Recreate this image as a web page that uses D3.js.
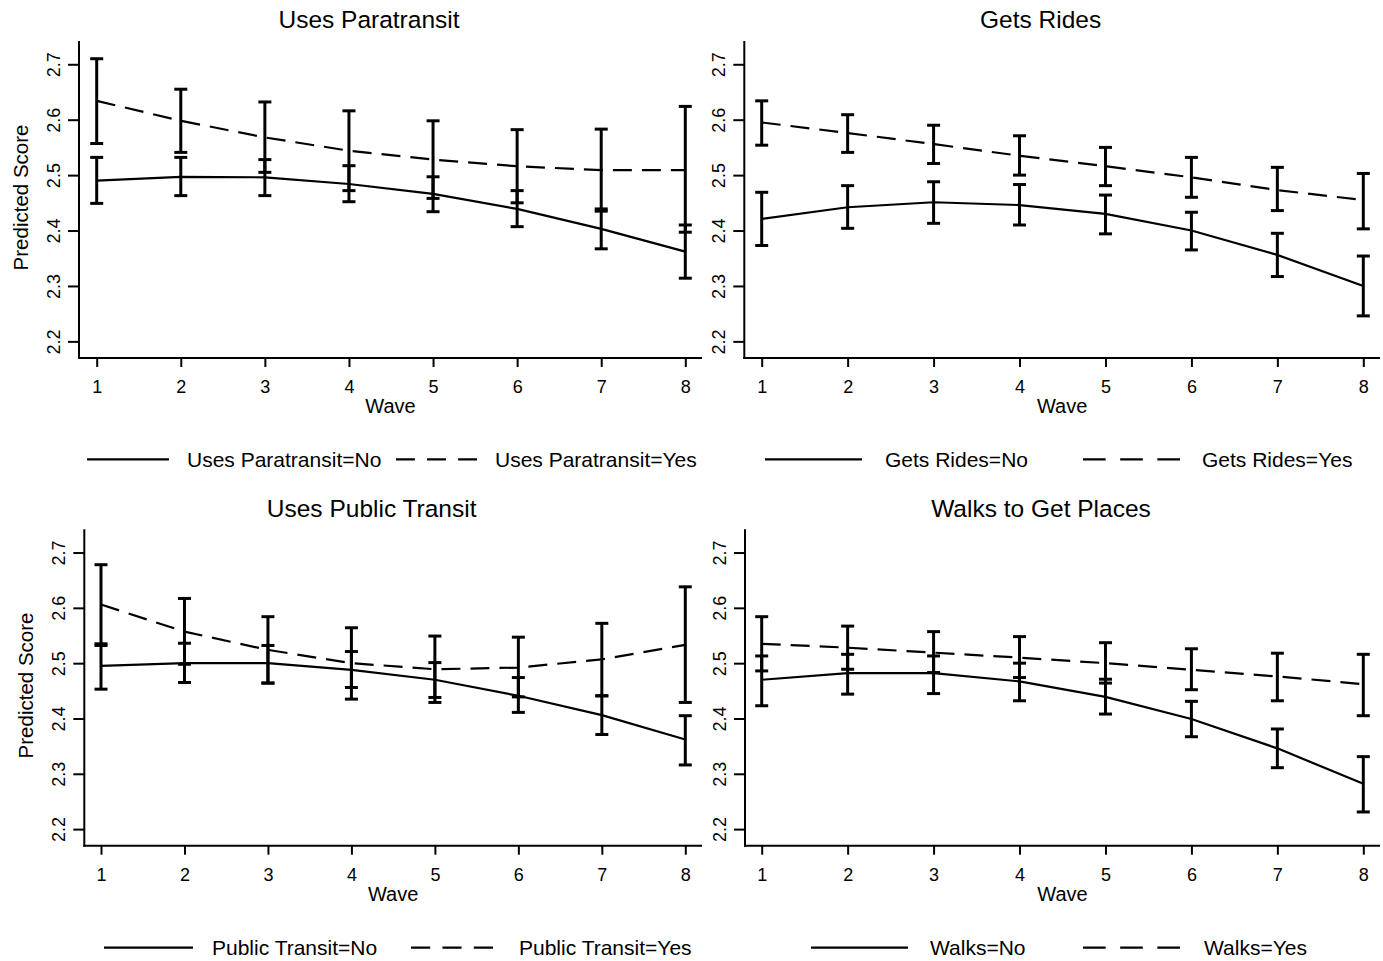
<!DOCTYPE html>
<html>
<head>
<meta charset="utf-8">
<script src="https://cdn.jsdelivr.net/npm/d3@7"></script>
<style>
  html, body { margin: 0; padding: 0; background: #fff; }
  svg { display: block; font-family: "Liberation Sans", Arial, sans-serif; }
</style>
</head>
<body>
<svg id="chart" width="1383" height="961"></svg>
<script>
// ---- data ----
const waves = [1, 2, 3, 4, 5, 6, 7, 8];
const yTicks = [2.2, 2.3, 2.4, 2.5, 2.6, 2.7];
const titles = ["Uses Paratransit", "Gets Rides", "Uses Public Transit", "Walks to Get Places"];
const legendNo = ["Uses Paratransit=No", "Gets Rides=No", "Public Transit=No", "Walks=No"];
const legendYes = ["Uses Paratransit=Yes", "Gets Rides=Yes", "Public Transit=Yes", "Walks=Yes"];

const paraNo    = [2.490, 2.497, 2.496, 2.484, 2.466, 2.439, 2.403, 2.362];
const paraNoLo  = [2.449, 2.463, 2.463, 2.452, 2.434, 2.407, 2.367, 2.314];
const paraNoHi  = [2.532, 2.532, 2.528, 2.517, 2.497, 2.472, 2.439, 2.410];
const paraYes   = [2.634, 2.598, 2.568, 2.544, 2.528, 2.516, 2.509, 2.509];
const paraYesLo = [2.557, 2.541, 2.505, 2.472, 2.458, 2.450, 2.435, 2.397];
const paraYesHi = [2.710, 2.655, 2.632, 2.616, 2.598, 2.582, 2.583, 2.624];

const ridesNo    = [2.421, 2.442, 2.451, 2.446, 2.430, 2.400, 2.356, 2.300];
const ridesNoLo  = [2.373, 2.404, 2.413, 2.410, 2.394, 2.365, 2.317, 2.246];
const ridesNoHi  = [2.469, 2.481, 2.488, 2.483, 2.464, 2.433, 2.395, 2.354];
const ridesYes   = [2.595, 2.576, 2.556, 2.535, 2.516, 2.496, 2.473, 2.455];
const ridesYesLo = [2.554, 2.541, 2.521, 2.500, 2.481, 2.460, 2.436, 2.403];
const ridesYesHi = [2.634, 2.609, 2.590, 2.571, 2.550, 2.532, 2.514, 2.503];

const pubNo    = [2.495, 2.500, 2.500, 2.488, 2.470, 2.441, 2.406, 2.362];
const pubNoLo  = [2.453, 2.465, 2.464, 2.456, 2.438, 2.411, 2.371, 2.316];
const pubNoHi  = [2.535, 2.536, 2.532, 2.521, 2.501, 2.474, 2.441, 2.405];
const pubYes   = [2.606, 2.557, 2.524, 2.500, 2.489, 2.492, 2.507, 2.533];
const pubYesLo = [2.532, 2.498, 2.464, 2.435, 2.429, 2.439, 2.441, 2.429];
const pubYesHi = [2.678, 2.617, 2.584, 2.564, 2.549, 2.547, 2.572, 2.638];

const walkNo    = [2.470, 2.482, 2.482, 2.467, 2.439, 2.399, 2.346, 2.282];
const walkNoLo  = [2.423, 2.444, 2.445, 2.432, 2.408, 2.367, 2.311, 2.231];
const walkNoHi  = [2.513, 2.516, 2.513, 2.500, 2.471, 2.431, 2.381, 2.331];
const walkYes   = [2.535, 2.528, 2.519, 2.510, 2.500, 2.488, 2.476, 2.462];
const walkYesLo = [2.486, 2.489, 2.483, 2.474, 2.464, 2.452, 2.432, 2.405];
const walkYesHi = [2.584, 2.567, 2.557, 2.548, 2.537, 2.526, 2.518, 2.516];

const seriesSets = [
  { no: paraNo, noLo: paraNoLo, noHi: paraNoHi, yes: paraYes, yesLo: paraYesLo, yesHi: paraYesHi },
  { no: ridesNo, noLo: ridesNoLo, noHi: ridesNoHi, yes: ridesYes, yesLo: ridesYesLo, yesHi: ridesYesHi },
  { no: pubNo, noLo: pubNoLo, noHi: pubNoHi, yes: pubYes, yesLo: pubYesLo, yesHi: pubYesHi },
  { no: walkNo, noLo: walkNoLo, noHi: walkNoHi, yes: walkYes, yesLo: walkYesLo, yesHi: walkYesHi }
];

// ---- layout (pixels) ----
const layout = [
  { axX: 79,    x1: 96.7,  x8: 685.3,  xEnd: 702,  yTop: 41,    yBot: 358,   ytitle: true,
    leg: { y: 459.3, s0: 87,  s1: 169,  t1: 187, d0: 396,  d1: 477,  t2: 495 } },
  { axX: 744.3, x1: 761.7, x8: 1363.3, xEnd: 1380, yTop: 41,    yBot: 358,   ytitle: false,
    leg: { y: 459.3, s0: 765, s1: 862,  t1: 885, d0: 1083, d1: 1180, t2: 1202 } },
  { axX: 84.3,  x1: 101,   x8: 685.3,  xEnd: 702,  yTop: 529.3, yBot: 845.7, ytitle: true,
    leg: { y: 947.6, s0: 104, s1: 193,  t1: 212, d0: 411,  d1: 493,  t2: 519 } },
  { axX: 745,   x1: 761.7, x8: 1363.3, xEnd: 1380, yTop: 529.3, yBot: 845.7, ytitle: false,
    leg: { y: 947.6, s0: 811, s1: 908,  t1: 930, d0: 1083, d1: 1180, t2: 1204 } }
];
const yDomain = [2.17, 2.742];

const svg = d3.select("#chart");

layout.forEach((L, i) => {
  const S = seriesSets[i];
  const g = svg.append("g");
  const x = d3.scaleLinear().domain([1, 8]).range([L.x1, L.x8]);
  const y = d3.scaleLinear().domain(yDomain).range([L.yBot, L.yTop]);

  // axis lines
  g.append("line").attr("x1", L.axX).attr("x2", L.axX).attr("y1", L.yTop).attr("y2", L.yBot + 1)
    .attr("stroke", "#000").attr("stroke-width", 2);
  g.append("line").attr("x1", L.axX - 1).attr("x2", L.xEnd).attr("y1", L.yBot).attr("y2", L.yBot)
    .attr("stroke", "#000").attr("stroke-width", 2);

  // y axis
  const yAx = g.append("g").attr("transform", `translate(${L.axX},0)`)
    .call(d3.axisLeft(y).tickValues(yTicks).tickSize(11).tickFormat(d3.format(".1f")));
  yAx.select(".domain").remove();
  yAx.selectAll(".tick line").attr("stroke-width", 2);
  yAx.selectAll(".tick text")
    .attr("x", 0).attr("y", -19).attr("dy", 0)
    .attr("transform", "rotate(-90)")
    .attr("text-anchor", "middle")
    .attr("font-size", 18).attr("fill", "#000")
    .attr("font-family", "Liberation Sans, Arial, sans-serif");

  // x axis
  const xAx = g.append("g").attr("transform", `translate(0,${L.yBot})`)
    .call(d3.axisBottom(x).tickValues(waves).tickSize(9).tickFormat(d3.format("d")));
  xAx.select(".domain").remove();
  xAx.selectAll(".tick line").attr("stroke-width", 2);
  xAx.selectAll(".tick text")
    .attr("y", 35).attr("dy", 0)
    .attr("font-size", 18).attr("fill", "#000")
    .attr("font-family", "Liberation Sans, Arial, sans-serif");

  // axis titles
  const cx = (L.axX + L.xEnd) / 2;
  g.append("text").attr("x", cx).attr("y", L.yBot + 55)
    .attr("text-anchor", "middle").attr("font-size", 20).text("Wave");
  if (L.ytitle) {
    const cy = (L.yTop + L.yBot) / 2 - 2;
    g.append("text")
      .attr("transform", `translate(${L.axX - 51},${cy}) rotate(-90)`)
      .attr("text-anchor", "middle").attr("font-size", 20.5).text("Predicted Score");
  }

  // title
  g.append("text").attr("x", cx - 21.5).attr("y", L.yTop - 12.7)
    .attr("text-anchor", "middle").attr("font-size", 24.5).text(titles[i]);

  // lines
  const line = d3.line().x((d, j) => x(waves[j])).y(d => y(d));
  g.append("path").datum(S.no).attr("d", line)
    .attr("fill", "none").attr("stroke", "#000").attr("stroke-width", 2.2);
  g.append("path").datum(S.yes).attr("d", line)
    .attr("fill", "none").attr("stroke", "#000").attr("stroke-width", 2.2)
    .attr("stroke-dasharray", "19,10");

  // error bars
  const cap = 6.5;
  [[S.noLo, S.noHi], [S.yesLo, S.yesHi]].forEach(([lo, hi]) => {
    const eb = g.append("g").attr("stroke", "#000").attr("stroke-width", 3).attr("fill", "none");
    waves.forEach((w, j) => {
      const xx = x(w);
      eb.append("line").attr("x1", xx).attr("x2", xx).attr("y1", y(lo[j])).attr("y2", y(hi[j]));
      eb.append("line").attr("x1", xx - cap).attr("x2", xx + cap).attr("y1", y(lo[j])).attr("y2", y(lo[j]));
      eb.append("line").attr("x1", xx - cap).attr("x2", xx + cap).attr("y1", y(hi[j])).attr("y2", y(hi[j]));
    });
  });

  // legend
  const lg = L.leg;
  g.append("line").attr("x1", lg.s0).attr("x2", lg.s1).attr("y1", lg.y).attr("y2", lg.y)
    .attr("stroke", "#000").attr("stroke-width", 2.2);
  const dl = lg.d1 - lg.d0, gap = dl * 0.15, dash = (dl - 2 * gap) / 3;
  g.append("line").attr("x1", lg.d0).attr("x2", lg.d1).attr("y1", lg.y).attr("y2", lg.y)
    .attr("stroke", "#000").attr("stroke-width", 2.2)
    .attr("stroke-dasharray", `${dash},${gap}`);
  g.append("text").attr("x", lg.t1).attr("y", lg.y + 7.5).attr("font-size", 21).text(legendNo[i]);
  g.append("text").attr("x", lg.t2).attr("y", lg.y + 7.5).attr("font-size", 21).text(legendYes[i]);
});
</script>
</body>
</html>
